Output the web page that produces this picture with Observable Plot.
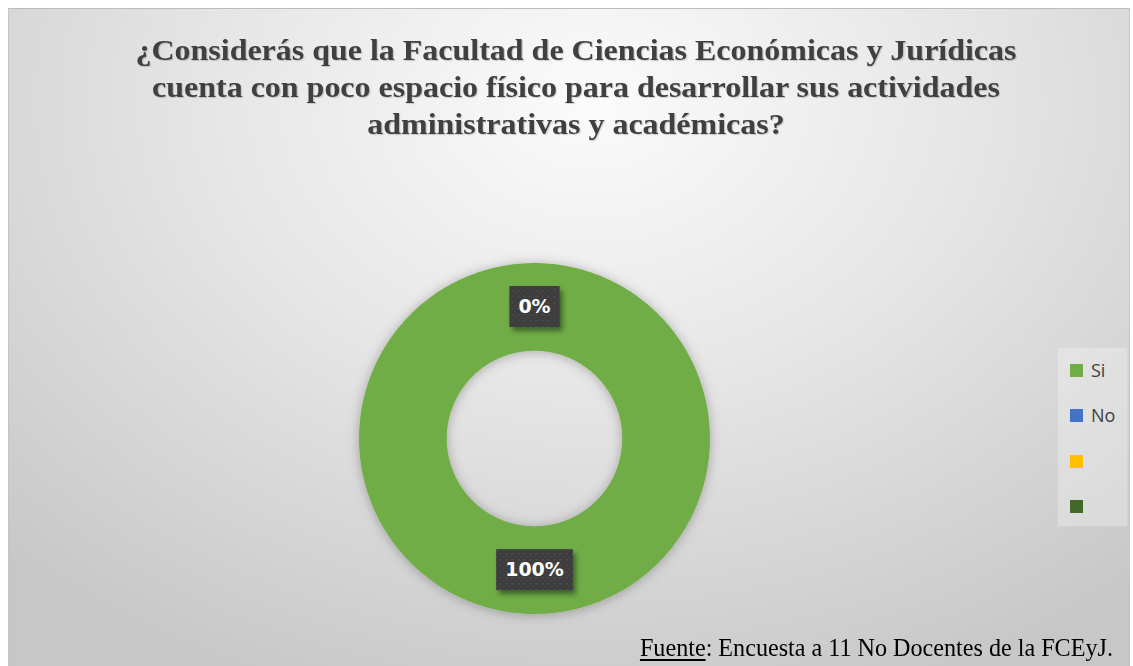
<!DOCTYPE html>
<html>
<head>
<meta charset="utf-8">
<script src="https://cdn.jsdelivr.net/npm/d3@7"></script>
<script src="https://cdn.jsdelivr.net/npm/@observablehq/plot@0.6"></script>
<style>
  html, body { margin: 0; padding: 0; background: #ffffff; }
  #page { position: relative; width: 1133px; height: 666px; overflow: hidden; background: #fff; }
  #frame { position: absolute; left: 8px; top: 8px; width: 1122px; height: 670px;
    background: radial-gradient(ellipse 75% 95% at 52% 14%, #fbfbfb 0%, #e6e6e6 45%, #c7c7c7 100%);
    border-top: 1px solid #bcbcbc; border-left: 1px solid #c4c4c4; border-right: 1px solid #c4c4c4; box-sizing: border-box; }
  #title { position: absolute; left: 0; width: 1152px; top: 31px; text-align: center;
    font-family: "Liberation Serif", "Times New Roman", serif; font-weight: bold; font-size: 30px; line-height: 37px;
    color: #404040; text-shadow: 1px 1px 1px rgba(0,0,0,0.18); transform-origin: 576px 0; white-space: nowrap; }
  #title span { display: inline-block; }
  #chart { position: absolute; left: 333.5px; top: 237.5px; }
  #legend { position: absolute; left: 1057px; top: 347px; width: 71px; height: 180px; box-sizing: border-box;
    background: rgba(255,255,255,0.28); border: 1px solid rgba(0,0,0,0.04); }
  .item { position: absolute; left: 12px; height: 20px; display: flex; align-items: center;
    font-family: "Open Sans", "DejaVu Sans", sans-serif; font-size: 18px; color: #404040; }
  .sw { width: 13px; height: 13px; margin-right: 8px; flex: none; }
  #caption { position: absolute; right: 20px; top: 633px; font-family: "Liberation Serif", "Times New Roman", serif;
    font-size: 25px; line-height: 30px; color: #000; white-space: nowrap; transform-origin: right top; }
  #caption u { text-underline-offset: 3px; }
</style>
</head>
<body>
<div id="page">
  <div id="frame"></div>
  <div id="title"></div>
  <div id="chart"></div>
  <div id="legend"></div>
  <div id="caption"><u>Fuente</u>: Encuesta a 11 No Docentes de la FCEyJ.</div>
</div>
<script>
// ---- data ----
const titleLines = [
  "¿Considerás que la Facultad de Ciencias Económicas y Jurídicas",
  "cuenta con poco espacio físico para desarrollar sus actividades",
  "administrativas y académicas?"
];
const categories = ["Si", "No", "", ""];
const counts = [11, 0, null, null];
const percentLabels = ["100%", "0%", null, null];
const colors = ["#70ad47", "#4472c4", "#ffc000", "#43682b"];
const innerRatio = 0.5;

// ---- title ----
const titleEl = document.getElementById("title");
titleLines.forEach((t, i) => {
  const s = document.createElement("span");
  s.textContent = t;
  titleEl.appendChild(s);
  if (i < titleLines.length - 1) titleEl.appendChild(document.createElement("br"));
});

// ---- pie geometry from data ----
const keys = categories.map((c, i) => "k" + i);
const rows = categories.map((c, i) => ({key: keys[i], label: c, value: counts[i], pct: percentLabels[i]}));
const present = rows.filter(d => d.value != null);
const arcs = d3.pie().sort(null).value(d => d.value).startAngle(0).endAngle(2 * Math.PI)(present);

// ring polygons (outer arc forward, inner arc back), angle clockwise from top
const ringPts = [];
for (const a of arcs) {
  const span = a.endAngle - a.startAngle;
  if (span <= 0) continue;
  const n = Math.max(2, Math.ceil(span / (2 * Math.PI) * 360));
  const outer = [], inner = [];
  for (let i = 0; i <= n; i++) {
    const t = a.startAngle + span * i / n;
    outer.push({key: a.data.key, x: Math.sin(t), y: Math.cos(t)});
    inner.push({key: a.data.key, x: innerRatio * Math.sin(t), y: innerRatio * Math.cos(t)});
  }
  ringPts.push(...outer, ...inner.reverse());
}
const midR = (1 + innerRatio) / 2;
const labelRows = arcs.filter(a => a.data.pct != null).map(a => {
  const m = (a.startAngle + a.endAngle) / 2;
  return {key: a.data.key, text: a.data.pct, x: midR * Math.sin(m), y: midR * Math.cos(m)};
});

const L = 1.14;
const plot = Plot.plot({
  width: 400, height: 400, margin: 0,
  x: {domain: [-L, L], axis: null},
  y: {domain: [-L, L], axis: null},
  color: {domain: keys, range: colors},
  style: {background: "transparent", overflow: "visible"},
  marks: [
    Plot.line(ringPts, {x: "x", y: "y", z: "key", fill: "key", stroke: null, curve: "linear"}),
    Plot.text(labelRows, {x: "x", y: "y", text: "text", fill: "white", fontSize: 19, fontWeight: "bold",
      fontFamily: "DejaVu Sans", textAnchor: "middle", lineAnchor: "middle"})
  ]
});
document.getElementById("chart").appendChild(plot);

// defs: shadows and pattern
const ns = "http://www.w3.org/2000/svg";
const defs = document.createElementNS(ns, "defs");
defs.innerHTML = `
  <filter id="ringShadow" x="-20%" y="-20%" width="140%" height="140%">
    <feDropShadow dx="0" dy="1" stdDeviation="6" flood-color="#000" flood-opacity="0.28"/>
  </filter>
  <filter id="boxShadow" x="-30%" y="-30%" width="160%" height="160%">
    <feDropShadow dx="3" dy="4" stdDeviation="2.5" flood-color="#1f3310" flood-opacity="0.6"/>
  </filter>
  <pattern id="dots" width="6" height="6" patternUnits="userSpaceOnUse">
    <rect width="6" height="6" fill="#3c3c3c"/>
    <rect x="1" y="1" width="2" height="1.5" fill="#4d4d4d"/>
    <rect x="4" y="4" width="1.5" height="1.5" fill="#474747"/>
  </pattern>`;
plot.insertBefore(defs, plot.firstChild);
const lineG = plot.querySelector('g[aria-label="line"]');
if (lineG) lineG.setAttribute("filter", "url(#ringShadow)");

const textG = plot.querySelector('g[aria-label="text"]');
if (textG) {
  textG.querySelectorAll("text").forEach(t => {
    const bb = t.getBBox();
    const cx = bb.x + bb.width / 2, cy = bb.y + bb.height / 2 + 0.5;
    const w = bb.width + 18, h = 41;
    const r = document.createElementNS(ns, "rect");
    r.setAttribute("x", cx - w / 2);
    r.setAttribute("y", cy - h / 2);
    r.setAttribute("width", w);
    r.setAttribute("height", h);
    r.setAttribute("fill", "url(#dots)");
    r.setAttribute("filter", "url(#boxShadow)");
    const tr = t.getAttribute("transform");
    if (tr) r.setAttribute("transform", tr);
    t.parentNode.insertBefore(r, t);
  });
}

// ---- legend ----
const legend = document.getElementById("legend");
const itemTops = [12, 57, 103, 148];
rows.forEach((d, i) => {
  const it = document.createElement("div");
  it.className = "item";
  it.style.top = itemTops[i] + "px";
  const sw = document.createElement("div");
  sw.className = "sw";
  sw.style.background = colors[i];
  const lab = document.createElement("span");
  lab.textContent = d.label;
  it.appendChild(sw); it.appendChild(lab);
  legend.appendChild(it);
});

// ---- fit text widths to reference layout ----
const first = titleEl.querySelector("span");
const s = 881 / first.getBoundingClientRect().width;
titleEl.style.transform = `scaleX(${s})`;
const cap = document.getElementById("caption");
const cs = 473 / cap.getBoundingClientRect().width;
cap.style.transform = `scaleX(${cs})`;
</script>
</body>
</html>
